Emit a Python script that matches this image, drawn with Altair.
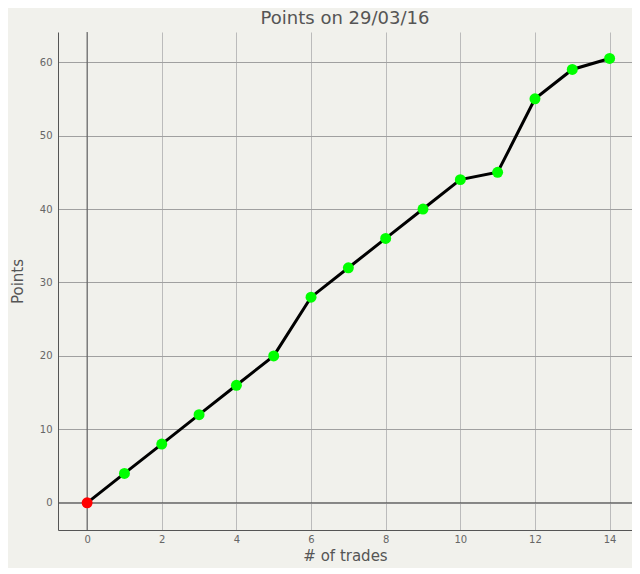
import pandas as pd
import altair as alt

# trades and running points
trades = list(range(15))
points = [0, 4, 8, 12, 16, 20, 28, 32, 36, 40, 44, 45, 55, 59, 60.5]
dot_kind = ['start'] + ['trade'] * 14

x_ticks = [0, 2, 4, 6, 8, 10, 12, 14]
y_ticks = [0, 10, 20, 30, 40, 50, 60]

df = pd.DataFrame({'trades': trades, 'points': points, 'kind': dot_kind})
zero = pd.DataFrame({'z': [0]})

font = 'DejaVu Sans'
x_scale = alt.Scale(domain=[-0.78, 14.6], nice=False, zero=False)
y_scale = alt.Scale(domain=[-3.7, 64.1], nice=False, zero=False)

base = alt.Chart(df)

line = base.mark_line(color='black', strokeWidth=3).encode(
    x=alt.X('trades:Q', scale=x_scale,
            axis=alt.Axis(values=x_ticks, title='# of trades', grid=True, gridColor='#bbbbbb',
                          domainColor='#555555', ticks=False, labelPadding=4,
                          labelFontSize=10, labelColor='#666666', labelFont=font,
                          titleFont=font, titleFontSize=15, titleFontWeight='normal',
                          titleColor='#555555', titlePadding=4)),
    y=alt.Y('points:Q', scale=y_scale,
            axis=alt.Axis(values=y_ticks, title='Points', grid=True, gridColor='#a0a0a0',
                          domainColor='#555555', ticks=False, labelPadding=6,
                          labelFontSize=10, labelColor='#666666', labelFont=font,
                          titleFont=font, titleFontSize=15, titleFontWeight='normal',
                          titleColor='#555555', titlePadding=14))
)

dots = base.mark_circle(size=120, opacity=1).encode(
    x=alt.X('trades:Q', scale=x_scale),
    y=alt.Y('points:Q', scale=y_scale),
    color=alt.Color('kind:N', scale=alt.Scale(domain=['start', 'trade'], range=['#ff0000', '#00ff00']),
                    legend=None)
)

vzero = alt.Chart(zero).mark_rule(color='#555555', strokeWidth=1).encode(x=alt.X('z:Q', scale=x_scale))
hzero = alt.Chart(zero).mark_rule(color='#555555', strokeWidth=1).encode(y=alt.Y('z:Q', scale=y_scale))

chart = alt.layer(vzero, hzero, line, dots).properties(
    width=574,
    height=498,
    background='#f1f1ec',
    autosize=alt.AutoSizeParams(type='none'),
    padding={'left': 50, 'top': 24, 'right': 0, 'bottom': 38},
    title=alt.TitleParams('Points on 29/03/16', font=font, fontSize=18, fontWeight='normal',
                          color='#555555', anchor='middle', offset=4)
).configure_view(stroke=None)

chart.save("out.html", embed_options={"renderer": "svg", "actions": False})
